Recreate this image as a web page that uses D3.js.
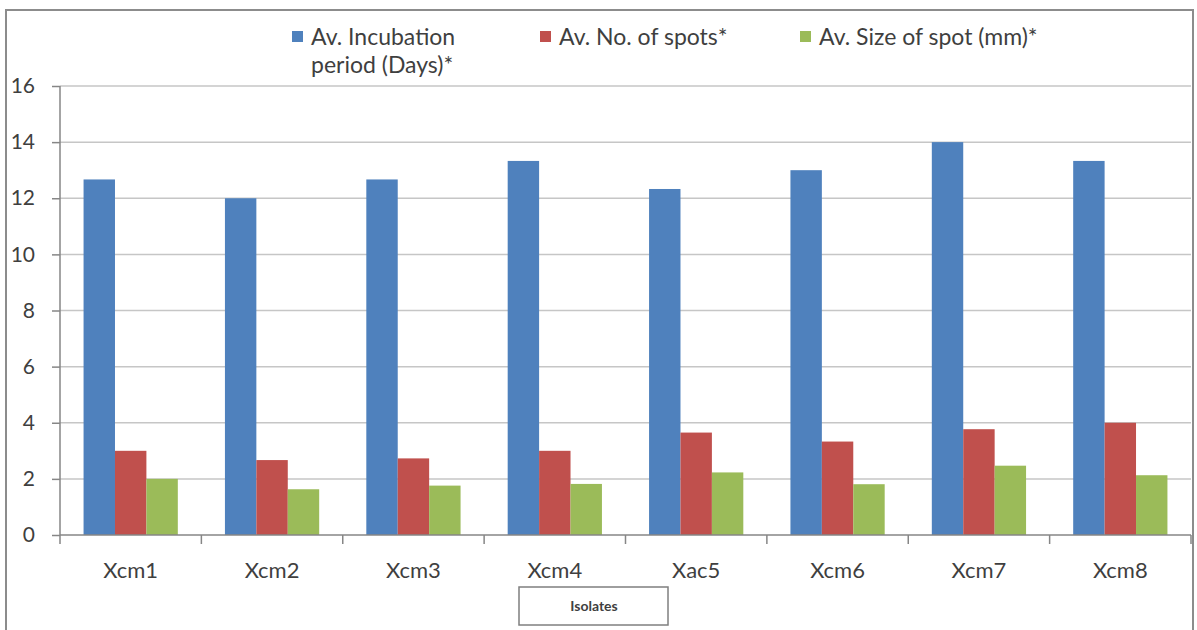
<!DOCTYPE html>
<html>
<head>
<meta charset="utf-8">
<script src="https://cdn.jsdelivr.net/npm/d3@7"></script>
<style>
  html, body { margin: 0; padding: 0; background: #fff; }
  svg { display: block; font-family: Lato, "Open Sans", sans-serif; }
</style>
</head>
<body>
<svg id="chart" width="1197" height="630"></svg>
<script>
// Isolates on the x axis
const isolates = ["Xcm1", "Xcm2", "Xcm3", "Xcm4", "Xac5", "Xcm6", "Xcm7", "Xcm8"];

// Series names (legend text, line breaks marked with \n)
const seriesNames = ["Av. Incubation\nperiod (Days)*", "Av. No. of spots*", "Av. Size of spot (mm)*"];

// Series values, one entry per isolate
const incubationDays = [12.67, 12.0, 12.67, 13.33, 12.33, 13.0, 14.0, 13.33];
const spotCount      = [3.0, 2.67, 2.73, 3.0, 3.65, 3.33, 3.77, 4.0];
const spotSizeMm     = [2.0, 1.63, 1.76, 1.82, 2.23, 1.81, 2.47, 2.13];

// Y axis ticks
const yTicks = [0, 2, 4, 6, 8, 10, 12, 14, 16];

const colors = ["#4F81BD", "#C0504D", "#9BBB59"];
const seriesValues = [incubationDays, spotCount, spotSizeMm];

const svg = d3.select("#chart");
const textColor = "#3f3f3f";

// Outer chart frame
svg.append("rect")
  .attr("x", 6).attr("y", 10)
  .attr("width", 1187).attr("height", 640)
  .attr("fill", "#fff")
  .attr("stroke", "#8c8c8c").attr("stroke-width", 2);

const plot = { left: 60, right: 1191, top: 86, bottom: 535 };

const x = d3.scaleBand()
  .domain(isolates)
  .range([plot.left, plot.right])
  .paddingInner(1 / 3)
  .paddingOuter(1 / 6);

const xs = d3.scaleBand()
  .domain(d3.range(seriesNames.length))
  .range([0, x.bandwidth()]);

const y = d3.scaleLinear()
  .domain([0, 16])
  .range([plot.bottom, plot.top]);

// Horizontal gridlines
svg.append("g")
  .selectAll("line")
  .data(yTicks.filter(t => t > 0))
  .join("line")
  .attr("x1", plot.left).attr("x2", plot.right)
  .attr("y1", d => y(d)).attr("y2", d => y(d))
  .attr("stroke", "#c6c6c6").attr("stroke-width", 1.5);

// Bars
const groups = svg.append("g")
  .selectAll("g")
  .data(isolates)
  .join("g")
  .attr("transform", d => `translate(${x(d)},0)`);

groups.selectAll("rect")
  .data((d, i) => seriesValues.map((vals, s) => ({ s, v: vals[i] })))
  .join("rect")
  .attr("x", d => xs(d.s))
  .attr("width", xs.bandwidth())
  .attr("y", d => y(d.v))
  .attr("height", d => y(0) - y(d.v))
  .attr("fill", d => colors[d.s]);

// Y axis
const yAxis = svg.append("g")
  .attr("transform", `translate(${plot.left},0)`)
  .call(d3.axisLeft(y).tickValues(yTicks).tickSize(8).tickPadding(17).tickFormat(d3.format("d")));
yAxis.select(".domain").attr("stroke", "#868686").attr("stroke-width", 1.5).attr("d", `M-0,${plot.top}V${plot.bottom}`);
yAxis.selectAll(".tick line").attr("stroke", "#868686").attr("stroke-width", 1.5);
yAxis.selectAll(".tick text")
  .attr("fill", textColor).attr("font-size", 21)
  .attr("font-family", "Lato, 'Open Sans', sans-serif");

// X axis: tick marks sit at category boundaries
const xAxisG = svg.append("g").attr("transform", `translate(0,${plot.bottom})`);
xAxisG.append("line")
  .attr("x1", plot.left).attr("x2", plot.right)
  .attr("stroke", "#868686").attr("stroke-width", 1.5);
const step = x.step();
xAxisG.selectAll("line.tk")
  .data(d3.range(isolates.length + 1))
  .join("line")
  .attr("class", "tk")
  .attr("x1", i => plot.left + i * step).attr("x2", i => plot.left + i * step)
  .attr("y1", 0).attr("y2", 9)
  .attr("stroke", "#868686").attr("stroke-width", 1.5);
xAxisG.selectAll("text")
  .data(isolates)
  .join("text")
  .attr("x", d => x(d) + x.bandwidth() / 2)
  .attr("y", 43)
  .attr("text-anchor", "middle")
  .attr("fill", textColor)
  .attr("font-size", 22)
  .text(d => d);

// Axis title box
const titleBox = svg.append("g");
titleBox.append("rect")
  .attr("x", 519).attr("y", 587).attr("width", 149).attr("height", 38)
  .attr("fill", "#fff").attr("stroke", "#7f7f7f").attr("stroke-width", 1.5);
titleBox.append("text")
  .attr("x", 594).attr("y", 611)
  .attr("text-anchor", "middle")
  .attr("font-size", 14).attr("font-weight", "bold")
  .attr("fill", textColor)
  .text("Isolates");

// Legend
const legendX = [292, 540, 800];
const legend = svg.append("g")
  .selectAll("g")
  .data(seriesNames)
  .join("g")
  .attr("transform", (d, i) => `translate(${legendX[i]},0)`);
legend.append("rect")
  .attr("x", 0).attr("y", 31).attr("width", 11).attr("height", 11)
  .attr("fill", (d, i) => colors[i]);
legend.append("text")
  .attr("fill", textColor)
  .attr("font-size", 23)
  .selectAll("tspan")
  .data(d => d.split("\n"))
  .join("tspan")
  .attr("x", 19)
  .attr("y", (d, i) => 45 + i * 28)
  .text(d => d);
</script>
</body>
</html>
